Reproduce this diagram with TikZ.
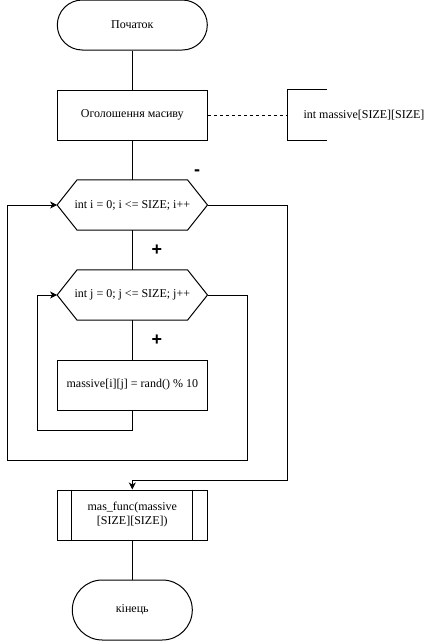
\documentclass[tikz,border=0pt]{standalone}
\usepackage{fontspec}
\setmainfont{Liberation Serif}
\newfontfamily\signfont{Liberation Sans}
\usetikzlibrary{arrows.meta}
\begin{document}
\begin{tikzpicture}[x=1pt,y=-1pt,
  every node/.style={font=\fontsize{12}{14}\selectfont},
  line/.style={draw=black,line width=1pt},
  arr/.style={line,-{Stealth[length=7pt,width=7pt,inset=2pt]}},
  terminal/.style={line,rectangle,rounded corners=25pt,minimum width=150pt,minimum height=50pt,inner sep=0pt},
  process/.style={line,rectangle,minimum width=150pt,minimum height=50pt,inner sep=0pt,align=center},
  loopbox/.style={rectangle,minimum width=150pt,minimum height=50pt,inner sep=0pt},
  sign/.style={font=\signfont\bfseries\fontsize{18}{18}\selectfont,inner sep=0pt}
]
\useasboundingbox (0,0) rectangle (438,641);

% main column
\node[terminal] (start) at (132.3,25) {Початок};
\node[process] (decl) at (132.3,115) {Оголошення масиву};
\node[loopbox] (h1) at (132.3,205) {int i = 0; i <= SIZE; i++};
\node[loopbox] (h2) at (132.3,295) {int j = 0; j <= SIZE; j++};
\node[process] (body) at (132.3,385) {massive[i][j] = rand() \% 10};
\node[process] (fn) at (132.3,515) {mas\_func(massive\\{}[SIZE][SIZE])};
\node[terminal,rounded corners=30pt,minimum width=120pt,minimum height=60pt] (end) at (132.3,610) {кінець};

% comment
\node[rectangle,anchor=west,minimum height=50pt,inner xsep=16pt,inner ysep=0pt] (cm) at (287.3,115) {int massive[SIZE][SIZE]};
\draw[line] ([xshift=39.4pt]cm.north west) -- (cm.north west) -- (cm.south west) -- ([xshift=39.4pt]cm.south west);

% loop hexagons
\foreach \h in {h1,h2}
  \draw[line] (\h.west) -- ([xshift=20pt]\h.north west) -- ([xshift=-20pt]\h.north east)
    -- (\h.east) -- ([xshift=-20pt]\h.south east) -- ([xshift=20pt]\h.south west) -- cycle;

% predefined process side bars
\draw[line] ([xshift=15pt]fn.north west) -- ([xshift=15pt]fn.south west);
\draw[line] ([xshift=-15pt]fn.north east) -- ([xshift=-15pt]fn.south east);

% branch labels
\node[sign] (no1) at (197,172.5) {-};
\node[sign] (yes1) at (157,250.5) {+};
\node[sign] (yes2) at (157,340.5) {+};

% routing points
\coordinate (ib) at (37.3,430);
\coordinate (ir) at (247.3,460);
\coordinate (ol) at (7.3,205);
\coordinate (oc) at (287.3,480);

% connectors
\draw[line] (start) -- (decl);
\draw[line,dashed] (decl.east) -- (cm.west);
\draw[line] (decl) -- (h1);
\draw[line] (h1) -- (h2);
\draw[line] (h2) -- (body);
\draw[arr] (body.south) |- (ib) |- (h2.west);
\draw[arr] (h2.east) -| (ir) -| (ol) -- (h1.west);
\draw[arr] (h1.east) -| (oc) -| (fn.north);
\draw[line] (fn) -- (end);
\end{tikzpicture}
\end{document}
